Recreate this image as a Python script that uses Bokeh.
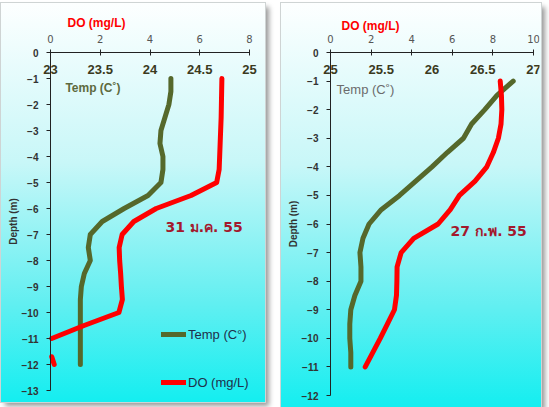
from bokeh.plotting import figure
from bokeh.models import Range1d, FixedTicker, Label, Legend, LegendItem
from bokeh.layouts import row
from bokeh.embed import file_html
from bokeh.resources import INLINE

nan = float("nan")

# ---------------- data : 31 Jan 2012 (left) ----------------
depth_l = [-1.0, -1.5, -2.0, -2.5, -3.0, -3.5, -4.0, -4.5, -5.0, -5.5, -6.0, -6.5,
           -7.0, -7.5, -8.0, -8.5, -9.0, -9.5, -10.0, -10.5, -11.0, -11.3, -11.7, -12.0]
temp_l = [24.21, 24.21, 24.19, 24.15, 24.11, 24.10, 24.13, 24.13, 24.11, 23.98, 23.74, 23.52,
          23.40, 23.38, 23.40, 23.34, 23.31, 23.30, 23.30, 23.30, 23.30, 23.30, 23.30, 23.30]
# DO drops below the 0 axis minimum between 11.1 and 11.6 m (off scale -> gap)
do_l = [6.89, 6.88, 6.87, 6.86, 6.84, 6.82, 6.80, 6.78, 6.68, 5.65, 4.25, 3.35,
        2.88, 2.76, 2.78, 2.82, 2.85, 2.89, 2.75, 1.35, 0.05, nan, 0.05, 0.15]

# ---------------- data : 27 Feb 2012 (right) ----------------
depth_r = [-1.0, -1.5, -2.0, -2.5, -3.0, -3.5, -4.0, -4.5, -5.0, -5.5, -6.0,
           -6.5, -7.0, -7.5, -8.0, -8.5, -9.0, -9.5, -10.0, -10.5, -11.0]
temp_r = [26.80, 26.64, 26.52, 26.39, 26.31, 26.15, 26.00, 25.84, 25.68, 25.50, 25.38,
          25.32, 25.29, 25.30, 25.30, 25.24, 25.20, 25.19, 25.19, 25.20, 25.20]
do_r = [8.36, 8.42, 8.44, 8.40, 8.27, 8.02, 7.70, 7.12, 6.35, 5.90, 5.30,
        4.10, 3.48, 3.28, 3.27, 3.25, 3.15, 2.80, 2.45, 2.08, 1.71]

# ---------------- ticks / labels ----------------
depth_ticks_l = [0, -1, -2, -3, -4, -5, -6, -7, -8, -9, -10, -11, -12, -13]
depth_ticks_r = [0, -1, -2, -3, -4, -5, -6, -7, -8, -9, -10, -11, -12]
do_ticks_l = [0, 2, 4, 6, 8]
do_ticks_r = [0, 2, 4, 6, 8, 10]
temp_ticks_l = [23, 23.5, 24, 24.5, 25]
temp_ticks_r = [25, 25.5, 26, 26.5, 27]
date_l = "31 ม.ค. 55"
date_r = "27 ก.พ. 55"

OLIVE = "#55682b"
RED = "#ff0000"
PANEL_STYLE = {
    "background": "linear-gradient(to bottom, #fdffff 0%, #c8f7f8 40%, #62eff1 75%, #14eef0 100%)",
    "box-shadow": "0 0 0 1px #cfd4d4, 4px 4px 5px rgba(0,0,0,0.40)",
}


def make_panel(width, height, xpx, ypx, do_max, tmin, tmax, dmin, depth_ticks,
               do_ticks, temp_ticks, temp_label_y, depth, temp, do, date_text, date_pos,
               do_title_pos, temp_title, temp_title_pos, temp_title_style):
    # xpx: (frame_left, axis_left, axis_right, frame_right) in figure pixels
    # ypx: (frame_top, depth0, depth_min, frame_bottom) in figure pixels
    fl, al, ar, fr = xpx
    ft, a0, am, fb = ypx
    do_per_px = do_max / (ar - al)
    t_per_px = (tmax - tmin) / (ar - al)
    d_per_px = -dmin / (am - a0)
    x_rng = Range1d((fl - al) * do_per_px, do_max + (fr - ar) * do_per_px)
    t_rng = Range1d(tmin + (fl - al) * t_per_px, tmax + (fr - ar) * t_per_px)
    y_rng = Range1d(dmin - (fb - am) * d_per_px, (a0 - ft) * d_per_px)

    p = figure(width=width, height=height, output_backend="svg", toolbar_location=None,
               x_range=x_rng, y_range=y_rng, x_axis_location="above",
               min_border_left=fl, min_border_top=ft,
               min_border_right=width - fr, min_border_bottom=height - fb)
    p.extra_x_ranges = {"temp": t_rng}
    p.background_fill_color = None
    p.border_fill_color = None
    p.outline_line_color = None
    p.grid.visible = False
    p.styles = PANEL_STYLE

    # DO axis (at depth 0)
    xa = p.xaxis[0]
    xa.fixed_location = 0
    xa.bounds = (0, do_max)
    xa.ticker = FixedTicker(ticks=do_ticks)
    xa.axis_line_color = "#222222"
    xa.major_tick_line_color = "#222222"
    xa.major_tick_in = 3
    xa.major_tick_out = 3
    xa.minor_tick_line_color = None
    xa.major_label_text_font = "DejaVu Sans"
    xa.major_label_text_font_size = "10px"
    xa.major_label_text_color = "#555555"
    xa.major_label_standoff = 7

    # Depth axis (at DO = 0)
    ya = p.yaxis[0]
    ya.fixed_location = 0
    ya.bounds = (dmin, 0)
    ya.ticker = FixedTicker(ticks=depth_ticks)
    ya.axis_label = "Depth (m)"
    ya.axis_label_text_font = "Liberation Sans"
    ya.axis_label_text_font_style = "bold"
    ya.axis_label_text_font_size = "10px"
    ya.axis_label_text_color = "#333333"
    ya.axis_label_standoff = 0
    ya.axis_line_color = "#222222"
    ya.major_tick_line_color = "#222222"
    ya.major_tick_in = 0
    ya.major_tick_out = 4
    ya.minor_tick_line_color = None
    ya.major_label_text_font = "Liberation Sans"
    ya.major_label_text_font_style = "bold"
    ya.major_label_text_font_size = "10px"
    ya.major_label_text_color = "#333333"
    ya.major_label_standoff = 8

    # Temperature scale labels just under the depth-0 line
    for t in temp_ticks:
        p.add_layout(Label(x=t, y=temp_label_y, text=f"{t:g}", x_range_name="temp",
                           text_font="Liberation Sans", text_font_style="bold",
                           text_font_size="13px", text_color="#3b3a1e", text_align="center",
                           text_baseline="middle"))

    r_t = p.line(temp, depth, x_range_name="temp", line_color=OLIVE, line_width=5,
                 line_cap="round", line_join="round")
    r_d = p.line(do, depth, line_color=RED, line_width=5, line_cap="round", line_join="round")

    p.add_layout(Label(x=do_title_pos[0], y=do_title_pos[1], text="DO (mg/L)",
                       text_font="Liberation Sans", text_font_style="bold",
                       text_font_size="12px", text_color=RED, text_align="center",
                       text_baseline="middle"))
    p.add_layout(Label(x=temp_title_pos[0], y=temp_title_pos[1], text=temp_title,
                       text_font="Liberation Sans", text_align="left", text_baseline="middle",
                       **temp_title_style))
    p.add_layout(Label(x=date_pos[0], y=date_pos[1], text=date_text, text_font="DejaVu Sans",
                       text_font_style="bold", text_font_size="14px", text_color="#a3192d",
                       text_align="left", text_baseline="middle"))
    return p, r_t, r_d


left, lt, ld = make_panel(
    264, 399, (3, 49, 248, 262), (2, 49, 387, 397), 8, 23, 25, -13, depth_ticks_l,
    do_ticks_l, temp_ticks_l, -0.65, depth_l, temp_l, do_l, date_l, (4.62, -6.73),
    (1.85, 1.12), "Temp (C˚)", (0.6, -1.35),
    dict(text_font_style="bold", text_font_size="12px", text_color="#5d6a3e"))

legend = Legend(items=[LegendItem(label="Temp (C°)", renderers=[lt]),
                       LegendItem(label="DO (mg/L)", renderers=[ld])],
                location=(157, 9), orientation="vertical", padding=0, margin=0,
                spacing=30, glyph_width=25, glyph_height=18, label_height=18,
                label_standoff=2, background_fill_alpha=0, border_line_color=None,
                label_text_font="Liberation Sans", label_text_font_size="13px",
                label_text_color="#1f2f4a")
left.add_layout(legend)

right, rt, rd = make_panel(
    260, 404, (3, 49, 252, 258), (2, 49, 392, 402), 10, 25, 27, -12, depth_ticks_r,
    do_ticks_r, temp_ticks_r, -0.6, depth_r, temp_r, do_r, date_r, (5.91, -6.26),
    (1.97, 0.94), "Temp (C˚)", (0.3, -1.29),
    dict(text_font_size="13px", text_color="#6b6b6b"))

layout = row(left, right, spacing=16,
             styles={"margin-left": "-5px", "margin-top": "-5px",
                     "position": "relative", "left": "6px", "top": "8px"})

open("out.html", "w").write(file_html(layout, INLINE))
